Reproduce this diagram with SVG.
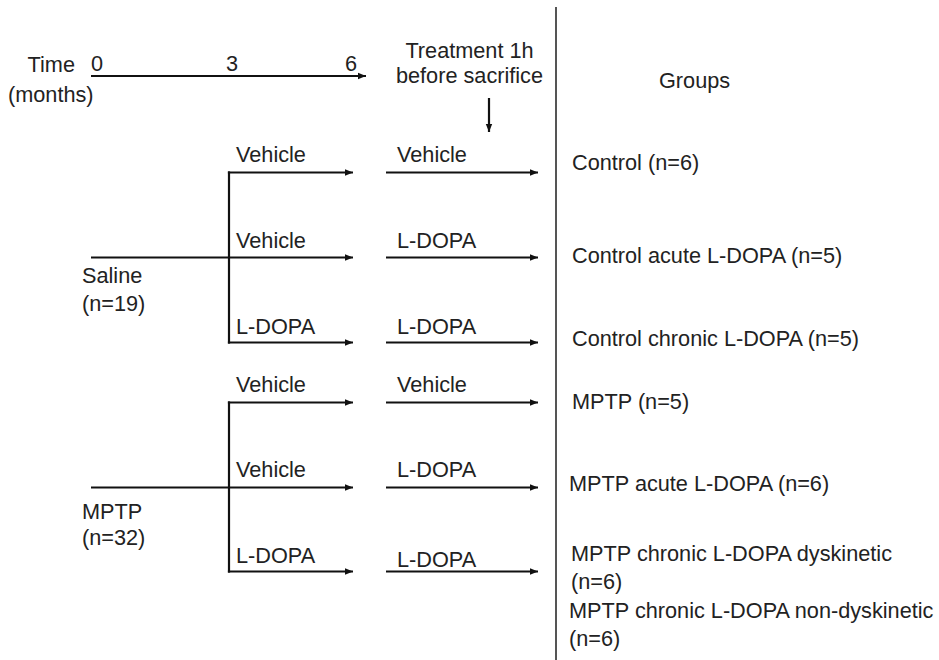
<svg xmlns="http://www.w3.org/2000/svg" width="939" height="660" viewBox="0 0 939 660">
<defs>
<marker id="ah" viewBox="0 0 10 10" refX="10" refY="5" markerWidth="8" markerHeight="8" markerUnits="userSpaceOnUse" orient="auto">
<path d="M0,1 L10,5 L0,9 z" fill="#111"/>
</marker>
<style>
text{font-family:"Liberation Sans",Arial,sans-serif;font-size:21.7px;fill:#222}
.ln{stroke:#111;stroke-width:2.2;fill:none}
.ar{stroke:#111;stroke-width:2.2;fill:none;marker-end:url(#ah)}
</style>
</defs>
<rect width="939" height="660" fill="#fff"/>
<g id="divider"><line x1="556" y1="7" x2="556" y2="660" stroke="#555" stroke-width="2"/></g>
<g id="timeline">
<text x="75" y="72" text-anchor="end">Time</text>
<text x="8" y="102">(months)</text>
<text x="91" y="71">0</text>
<text x="226" y="71">3</text>
<text x="345" y="71">6</text>
</g>
<g id="treatment">
<text x="469.5" y="58" text-anchor="middle">Treatment 1h</text>
<text x="469.5" y="83" text-anchor="middle">before sacrifice</text>
</g>
<g id="groups-title"><text x="659" y="88">Groups</text></g>
<g id="saline"><text x="82" y="283">Saline</text><text x="82" y="311">(n=19)</text></g>
<g id="mptp"><text x="82" y="519">MPTP</text><text x="82" y="545">(n=32)</text></g>
<g id="labels">
<text x="236" y="162">Vehicle</text><text x="397" y="162">Vehicle</text>
<text x="236" y="248">Vehicle</text><text x="397" y="248">L-DOPA</text>
<text x="236" y="334">L-DOPA</text><text x="397" y="334">L-DOPA</text>
<text x="236" y="392">Vehicle</text><text x="397" y="392">Vehicle</text>
<text x="236" y="477">Vehicle</text><text x="397" y="477">L-DOPA</text>
<text x="236" y="563">L-DOPA</text><text x="397" y="567">L-DOPA</text>
</g>
<g id="g1"><text x="572" y="170">Control (n=6)</text></g>
<g id="g2"><text x="572" y="263">Control acute L-DOPA (n=5)</text></g>
<g id="g3"><text x="572" y="346">Control chronic L-DOPA (n=5)</text></g>
<g id="g4"><text x="572" y="409">MPTP (n=5)</text></g>
<g id="g5"><text x="569" y="491">MPTP acute L-DOPA (n=6)</text></g>
<g id="g6"><text x="571" y="561">MPTP chronic L-DOPA dyskinetic</text><text x="571" y="589">(n=6)</text></g>
<g id="g7"><text x="569" y="618">MPTP chronic L-DOPA non-dyskinetic</text><text x="569" y="646">(n=6)</text></g>
<g id="connectors">
<line class="ar" x1="91" y1="76" x2="366" y2="76"/>
<line class="ar" x1="489" y1="98" x2="489" y2="132"/>
<line class="ln" x1="229" y1="171.4" x2="229" y2="343.6"/>
<line class="ln" x1="91" y1="257.5" x2="229" y2="257.5"/>
<line class="ar" x1="227.9" y1="172.5" x2="353" y2="172.5"/>
<line class="ar" x1="229" y1="257.5" x2="353" y2="257.5"/>
<line class="ar" x1="227.9" y1="342.5" x2="353" y2="342.5"/>
<line class="ar" x1="386" y1="172.5" x2="538" y2="172.5"/>
<line class="ar" x1="386" y1="257.5" x2="538" y2="257.5"/>
<line class="ar" x1="386" y1="342.5" x2="538" y2="342.5"/>
<line class="ln" x1="229" y1="401.4" x2="229" y2="572.6"/>
<line class="ln" x1="91" y1="487.5" x2="229" y2="487.5"/>
<line class="ar" x1="227.9" y1="402.5" x2="353" y2="402.5"/>
<line class="ar" x1="229" y1="487.5" x2="353" y2="487.5"/>
<line class="ar" x1="227.9" y1="571.5" x2="353" y2="571.5"/>
<line class="ar" x1="386" y1="402.5" x2="538" y2="402.5"/>
<line class="ar" x1="386" y1="487.5" x2="538" y2="487.5"/>
<line class="ar" x1="386" y1="571.5" x2="538" y2="571.5"/>
</g>
</svg>
